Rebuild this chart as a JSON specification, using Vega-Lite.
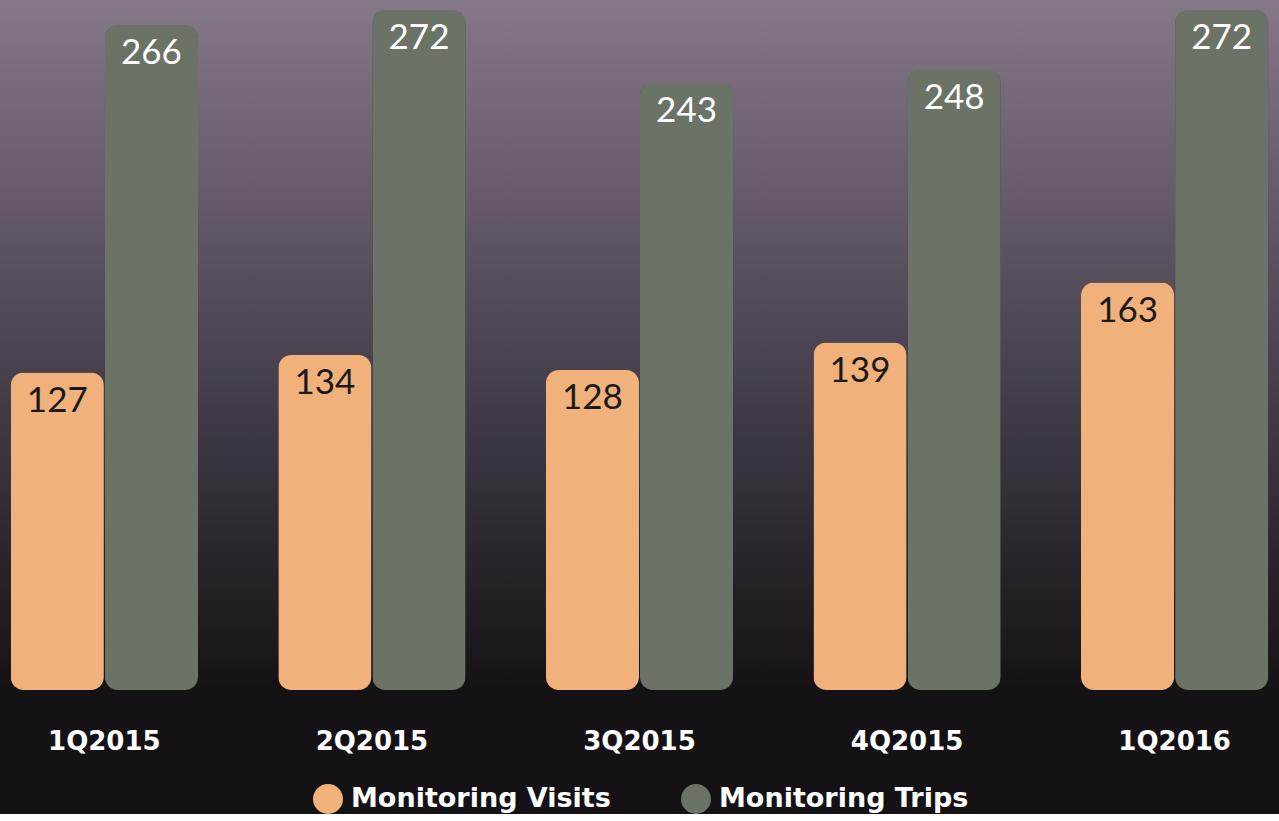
{
  "$schema": "https://vega.github.io/schema/vega-lite/v6.json",
  "width": 1279,
  "height": 690,
  "padding": {"left": 0, "top": 0, "right": 0, "bottom": 0},
  "background": "#151215",
  "data": {
    "values": [
      {"quarter": "1Q2015", "series": "Monitoring Visits", "value": 127},
      {"quarter": "1Q2015", "series": "Monitoring Trips", "value": 266},
      {"quarter": "2Q2015", "series": "Monitoring Visits", "value": 134},
      {"quarter": "2Q2015", "series": "Monitoring Trips", "value": 272},
      {"quarter": "3Q2015", "series": "Monitoring Visits", "value": 128},
      {"quarter": "3Q2015", "series": "Monitoring Trips", "value": 243},
      {"quarter": "4Q2015", "series": "Monitoring Visits", "value": 139},
      {"quarter": "4Q2015", "series": "Monitoring Trips", "value": 248},
      {"quarter": "1Q2016", "series": "Monitoring Visits", "value": 163},
      {"quarter": "1Q2016", "series": "Monitoring Trips", "value": 272}
    ]
  },
  "encoding": {
    "x": {
      "field": "quarter",
      "type": "nominal",
      "sort": null,
      "scale": {"paddingInner": 0.3, "paddingOuter": 0.04},
      "axis": {
        "title": null,
        "domain": false,
        "ticks": false,
        "labelAngle": 0,
        "labelPadding": 38,
        "labelColor": "#ffffff",
        "labelFont": "DejaVu Sans",
        "labelFontWeight": "bold",
        "labelFontSize": 26
      }
    },
    "xOffset": {
      "field": "series",
      "type": "nominal",
      "sort": ["Monitoring Visits", "Monitoring Trips"],
      "scale": {"paddingInner": 0.01}
    },
    "y": {
      "field": "value",
      "type": "quantitative",
      "scale": {"domain": [0, 276], "nice": false},
      "axis": null
    }
  },
  "layer": [
    {
      "mark": {"type": "bar", "cornerRadius": 14, "color": "#000000", "opacity": 0.15, "xOffset": 10, "yOffset": 6}
    },
    {
      "mark": {"type": "bar", "cornerRadius": 13, "color": "#000000", "opacity": 0.3, "xOffset": 5, "yOffset": 3}
    },
    {
      "mark": {"type": "bar", "cornerRadius": 13},
      "encoding": {
        "color": {
          "field": "series",
          "type": "nominal",
          "scale": {"domain": ["Monitoring Visits", "Monitoring Trips"], "range": ["#f0b17a", "#6b7266"]},
          "legend": {
            "title": null,
            "orient": "none",
            "direction": "horizontal",
            "legendX": 313,
            "legendY": 784,
            "symbolType": "circle",
            "symbolSize": 900,
            "symbolStrokeWidth": 0,
            "symbolOpacity": 1,
            "labelColor": "#ffffff",
            "labelFont": "DejaVu Sans",
            "labelFontWeight": "bold",
            "labelFontSize": 27,
            "labelOffset": 8,
            "labelLimit": 400,
            "columnPadding": 70
          }
        }
      }
    },
    {
      "mark": {"type": "text", "baseline": "top", "align": "center", "dy": 11, "font": "Lato", "fontSize": 35},
      "encoding": {
        "text": {"field": "value", "type": "quantitative"},
        "color": {
          "condition": {"test": "datum.series === 'Monitoring Trips'", "value": "#ffffff"},
          "value": "#1a1a1a"
        }
      }
    }
  ],
  "config": {
    "view": {
      "stroke": null,
      "fill": {
        "gradient": "linear",
        "x1": 0, "y1": 0, "x2": 0, "y2": 1,
        "stops": [
          {"offset": 0, "color": "#857888"},
          {"offset": 0.5, "color": "#4c4452"},
          {"offset": 1, "color": "#151215"}
        ]
      }
    }
  }
}
